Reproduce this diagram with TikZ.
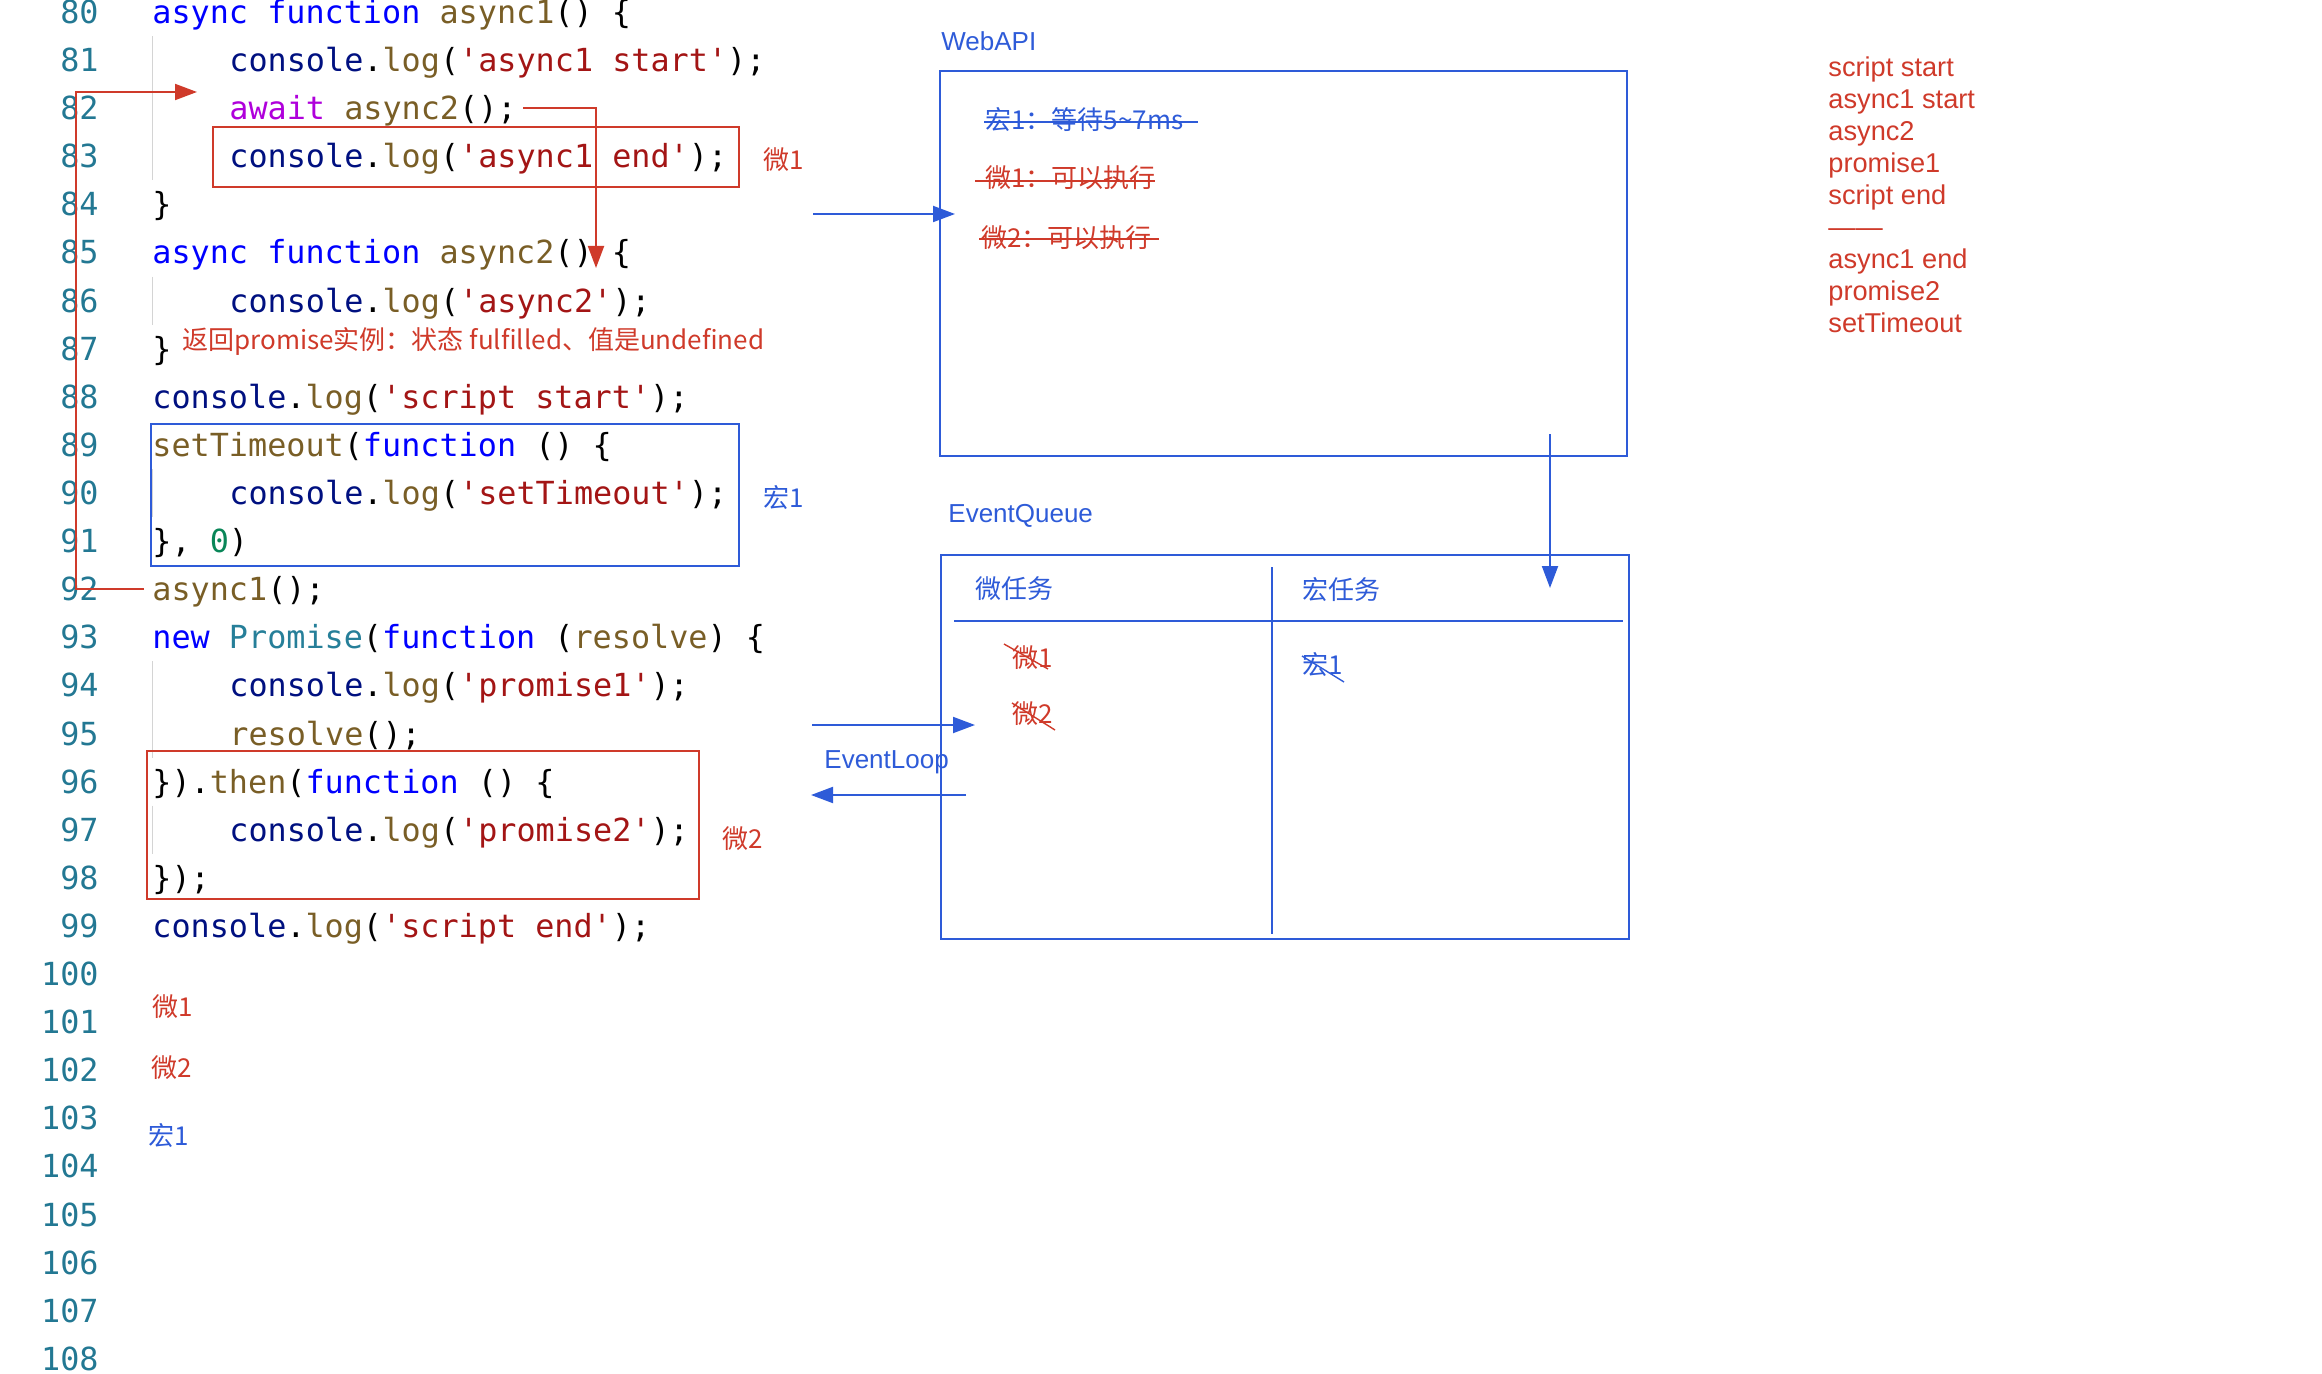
\documentclass[tikz,border=0pt]{standalone}
\usepackage{fontspec}
\setmainfont{Liberation Sans}
\setmonofont{DejaVu Sans Mono}
\newfontfamily\cjk{Noto Sans CJK SC}
\usetikzlibrary{arrows.meta}

\definecolor{lineno}{HTML}{237893}
\definecolor{kwblue}{HTML}{0000FF}
\definecolor{fnbrown}{HTML}{795E26}
\definecolor{varblue}{HTML}{001080}
\definecolor{strred}{HTML}{A31515}
\definecolor{awpurple}{HTML}{AF00DB}
\definecolor{numgreen}{HTML}{098658}
\definecolor{clsteal}{HTML}{267F99}
\definecolor{guide}{HTML}{D4D4D4}
\definecolor{annred}{RGB}{207,58,42}
\definecolor{annblue}{RGB}{46,91,216}

\newcommand\kw[1]{\textcolor{kwblue}{#1}}
\newcommand\fnc[1]{\textcolor{fnbrown}{#1}}
\newcommand\cvar[1]{\textcolor{varblue}{#1}}
\newcommand\cstr[1]{\textcolor{strred}{#1}}
\newcommand\clog[1]{\cvar{console}.\fnc{log}(\cstr{'#1'});}

\tikzset{
  lnum/.style={anchor=base east, inner sep=0pt, text=lineno, font=\ttfamily\fontsize{15.9}{18}\selectfont},
  codeline/.style={anchor=base west, inner sep=0pt, font=\ttfamily\fontsize{15.9}{18}\selectfont},
  anno/.style={anchor=west, inner sep=0pt, font=\cjk\fontsize{13}{15}\selectfont},
  boxtitle/.style={anchor=west, inner sep=0pt, text=annblue, font=\fontsize{13}{15}\selectfont},
  outtext/.style={anchor=base west, inner sep=0pt, text=annred, font=\fontsize{13.6}{16}\selectfont},
  redbox/.style={draw=annred, line width=1.2pt},
  bluebox/.style={draw=annblue, line width=1.2pt},
  redarr/.style={draw=annred, line width=1pt, -{Triangle[length=11pt,width=8pt]}},
  bluearr/.style={draw=annblue, line width=1pt, -{Triangle[length=11pt,width=8pt]}},
}

\begin{document}
\begin{tikzpicture}[x=0.5pt, y=-0.5pt]
  \useasboundingbox (0,0) rectangle (2322,1374);

  % line numbers
  \foreach \n in {80,...,108}
    \node[lnum] (ln\n) at (99, {23.5+(\n-80)*48.1}) {\n};

  % indent guides
  \foreach \a/\b in {81/83, 86/86, 90/90, 94/95, 97/97}
    \draw[draw=guide, line width=0.5pt] (152,{12+(\a-80)*48.1-24}) -- (152,{12+(\b-80)*48.1+24});

  % code
  \node[codeline] (c80) at (152,0 |- ln80.base) {\kw{async} \kw{function} \fnc{async1}() \{};
  \node[codeline] (c81) at (229,0 |- ln81.base) {\clog{async1 start}};
  \node[codeline] (c82) at (229,0 |- ln82.base) {\textcolor{awpurple}{await} \fnc{async2}();};
  \node[codeline] (c83) at (229,0 |- ln83.base) {\clog{async1 end}};
  \node[codeline] (c84) at (152,0 |- ln84.base) {\}};
  \node[codeline] (c85) at (152,0 |- ln85.base) {\kw{async} \kw{function} \fnc{async2}() \{};
  \node[codeline] (c86) at (229,0 |- ln86.base) {\clog{async2}};
  \node[codeline] (c87) at (152,0 |- ln87.base) {\}};
  \node[codeline] (c88) at (152,0 |- ln88.base) {\clog{script start}};
  \node[codeline] (c89) at (152,0 |- ln89.base) {\fnc{setTimeout}(\kw{function} () \{};
  \node[codeline] (c90) at (229,0 |- ln90.base) {\clog{setTimeout}};
  \node[codeline] (c91) at (152,0 |- ln91.base) {\}, \textcolor{numgreen}{0})};
  \node[codeline] (c92) at (152,0 |- ln92.base) {\fnc{async1}();};
  \node[codeline] (c93) at (152,0 |- ln93.base) {\kw{new} \textcolor{clsteal}{Promise}(\kw{function} (\fnc{resolve}) \{};
  \node[codeline] (c94) at (229,0 |- ln94.base) {\clog{promise1}};
  \node[codeline] (c95) at (229,0 |- ln95.base) {\fnc{resolve}();};
  \node[codeline] (c96) at (152,0 |- ln96.base) {\}).\fnc{then}(\kw{function} () \{};
  \node[codeline] (c97) at (229,0 |- ln97.base) {\clog{promise2}};
  \node[codeline] (c98) at (152,0 |- ln98.base) {\});};
  \node[codeline] (c99) at (152,0 |- ln99.base) {\clog{script end}};

  % marks on the code
  \draw[redbox] (213,127) rectangle (739,187);
  \draw[bluebox] (151,424) rectangle (739,566);
  \draw[redbox] (147,751) rectangle (699,899);
  \node[anno, text=annred] (m1tag) at (763,160) {微1};
  \node[anno, text=annblue] (h1tag) at (763,498) {宏1};
  \node[anno, text=annred] (m2tag) at (722,839) {微2};
  \node[anno, text=annred] (ret) at (182,341) {返回promise实例：状态 fulfilled、值是undefined};
  \node[anno, text=annred] (m1out) at (152,1007) {微1};
  \node[anno, text=annred] (m2out) at (151,1068) {微2};
  \node[anno, text=annblue] (h1out) at (148,1136) {宏1};

  \coordinate (call) at (144,589);
  \coordinate (enter) at (197,92);
  \draw[redarr] (call) -- (76,589) |- (enter);
  \coordinate (awaitR) at (523,108);
  \coordinate (a2in) at (596,268);
  \draw[redarr] (awaitR) -| (a2in);

  % WebAPI
  \node[boxtitle] (webapi) at (941,41) {WebAPI};
  \draw[bluebox] (940,71) rectangle (1627,456);
  \node[anno, text=annblue] (h1wait) at (985,120) {宏1：等待5\textasciitilde7ms};
  \draw[annblue, line width=1pt] (984,122) -- (1198,122);
  \node[anno, text=annred] (m1ok) at (985,178) {微1：可以执行};
  \draw[annred, line width=1pt] (975,181) -- (1155,181);
  \node[anno, text=annred] (m2ok) at (981,238) {微2：可以执行};
  \draw[annred, line width=1pt] (979,239) -- (1159,239);

  % EventQueue
  \node[boxtitle] (evq) at (948,516) {EventQueue};
  \draw[bluebox] (941,555) rectangle (1629,939);
  \draw[annblue, line width=1pt] (954,621) -- (1623,621);
  \draw[annblue, line width=1pt] (1272,567) -- (1272,934);
  \node[anno, text=annblue] (microq) at (975,589) {微任务};
  \node[anno, text=annblue] (macroq) at (1302,590) {宏任务};
  \node[anno, text=annred] (m1q) at (1012,658) {微1};
  \draw[annred, line width=0.7pt] (1004,644) -- (1048,669);
  \node[anno, text=annred] (m2q) at (1012,714) {微2};
  \draw[annred, line width=0.7pt] (1012,703) -- (1055,730);
  \node[anno, text=annblue] (h1q) at (1302,665) {宏1};
  \draw[annblue, line width=0.7pt] (1302,656) -- (1344,682);

  % arrows between the parts
  \coordinate (codeR1) at (813,214);
  \coordinate (webin) at (955,214);
  \draw[bluearr] (codeR1) -- (webin);
  \coordinate (webout) at (1550,434);
  \coordinate (queuein) at (1550,588);
  \draw[bluearr] (webout) -- (queuein);
  \coordinate (codeR2) at (812,725);
  \coordinate (queueL1) at (975,725);
  \draw[bluearr] (codeR2) -- (queueL1);
  \coordinate (queueL2) at (966,795);
  \coordinate (codeR3) at (811,795);
  \draw[bluearr] (queueL2) -- (codeR3);
  \node[boxtitle] (evloop) at (824,762) {EventLoop};

  % printed order
  \foreach \t [count=\i] in {script start, async1 start, async2, promise1, script end, ——, async1 end, promise2, setTimeout}
    \node[outtext] (out\i) at (1828,{77+(\i-1)*31.9}) {\t};
\end{tikzpicture}
\end{document}
